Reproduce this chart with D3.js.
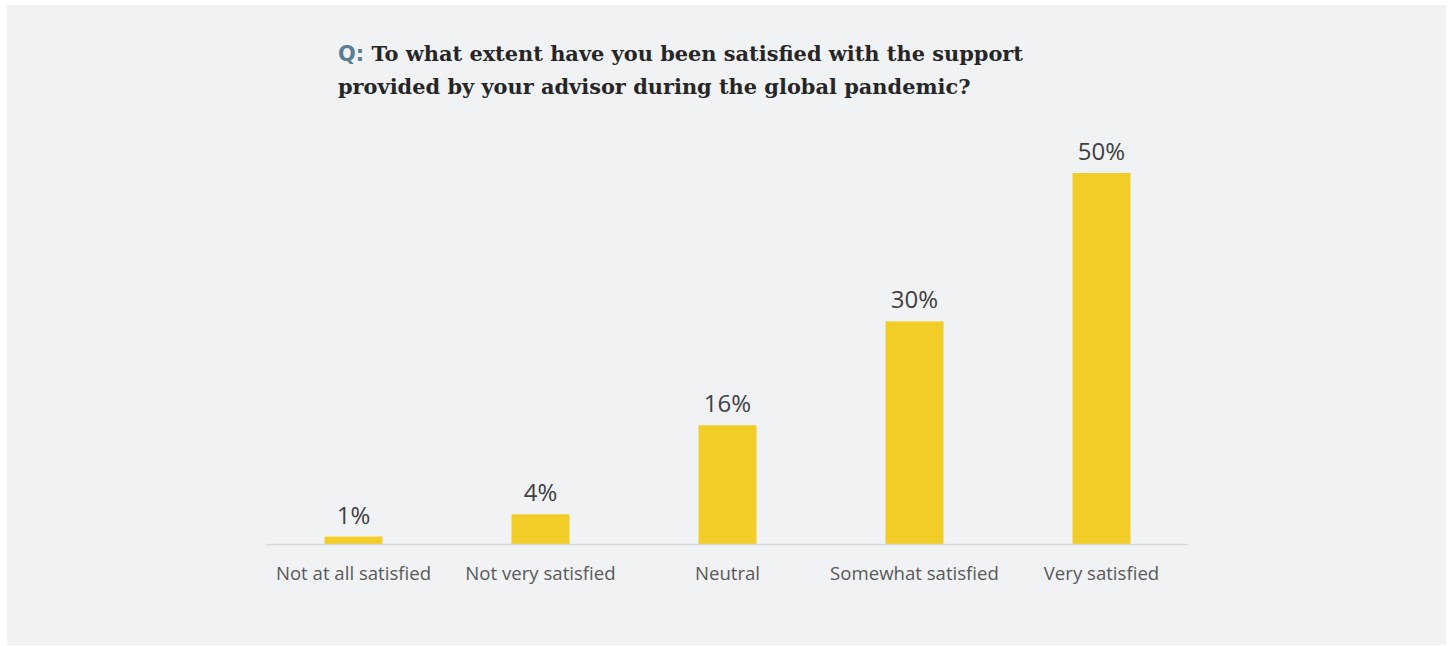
<!DOCTYPE html>
<html lang="en">
<head>
<meta charset="UTF-8">
<title>Advisor satisfaction</title>
<style>
    body { margin: 0; background: #fff; }
    svg { display: block; }
    .value { font-family: "Open Sans", sans-serif; font-size: 24px; fill: #404040; }
    .cat { font-family: "Open Sans", sans-serif; font-size: 18.6px; fill: #595959; }
    .title { font-family: "DejaVu Serif", serif; font-weight: bold; font-size: 20.9px; fill: #262626; }
</style>
</head>
<body>
<svg width="1450" height="646"></svg>
<script src="https://d3js.org/d3.v7.min.js"></script>
<script>
    // chart data
    const categories = ["Not at all satisfied", "Not very satisfied", "Neutral", "Somewhat satisfied", "Very satisfied"];
    const values = [1, 4, 16, 30, 50];
    const titleLines = ["To what extent have you been satisfied with the support", "provided by your advisor during the global pandemic?"];

    const svg = d3.select("svg");

    // grey panel
    svg.append("rect")
        .attr("x", 7).attr("y", 5)
        .attr("width", 1439).attr("height", 640)
        .attr("fill", "#f1f2f4");

    const baseY = 544;
    const x = d3.scalePoint().domain(categories).range([353.5, 1101.5]);
    const y = d3.scaleLinear().domain([0, 50]).range([baseY, 173]);
    const barW = 58;

    // title
    const title = svg.append("text").attr("class", "title").attr("x", 338).attr("y", 61);
    title.append("tspan").attr("fill", "#5a7d96").attr("font-family", "'DejaVu Sans', sans-serif").text("Q: ");
    title.append("tspan").text(titleLines[0]);
    svg.append("text").attr("class", "title").attr("x", 338).attr("y", 94).text(titleLines[1]);

    // bars
    svg.append("g").selectAll("rect").data(values).enter().append("rect")
        .attr("x", (d, i) => x(categories[i]) - barW / 2)
        .attr("y", d => y(d))
        .attr("width", barW)
        .attr("height", d => baseY - y(d))
        .attr("fill", "#f2cd27");

    // baseline
    svg.append("line")
        .attr("x1", 266).attr("x2", 1188)
        .attr("y1", baseY + 0.5).attr("y2", baseY + 0.5)
        .attr("stroke", "#d9d9d9").attr("stroke-width", 1.5);

    // value labels
    svg.append("g").selectAll("text").data(values).enter().append("text")
        .attr("class", "value")
        .attr("text-anchor", "middle")
        .attr("x", (d, i) => x(categories[i]))
        .attr("y", d => y(d) - 13)
        .text(d => d + "%");

    // category labels
    svg.append("g").selectAll("text").data(categories).enter().append("text")
        .attr("class", "cat")
        .attr("text-anchor", "middle")
        .attr("x", d => x(d))
        .attr("y", 580)
        .text(d => d);
</script>
</body>
</html>
